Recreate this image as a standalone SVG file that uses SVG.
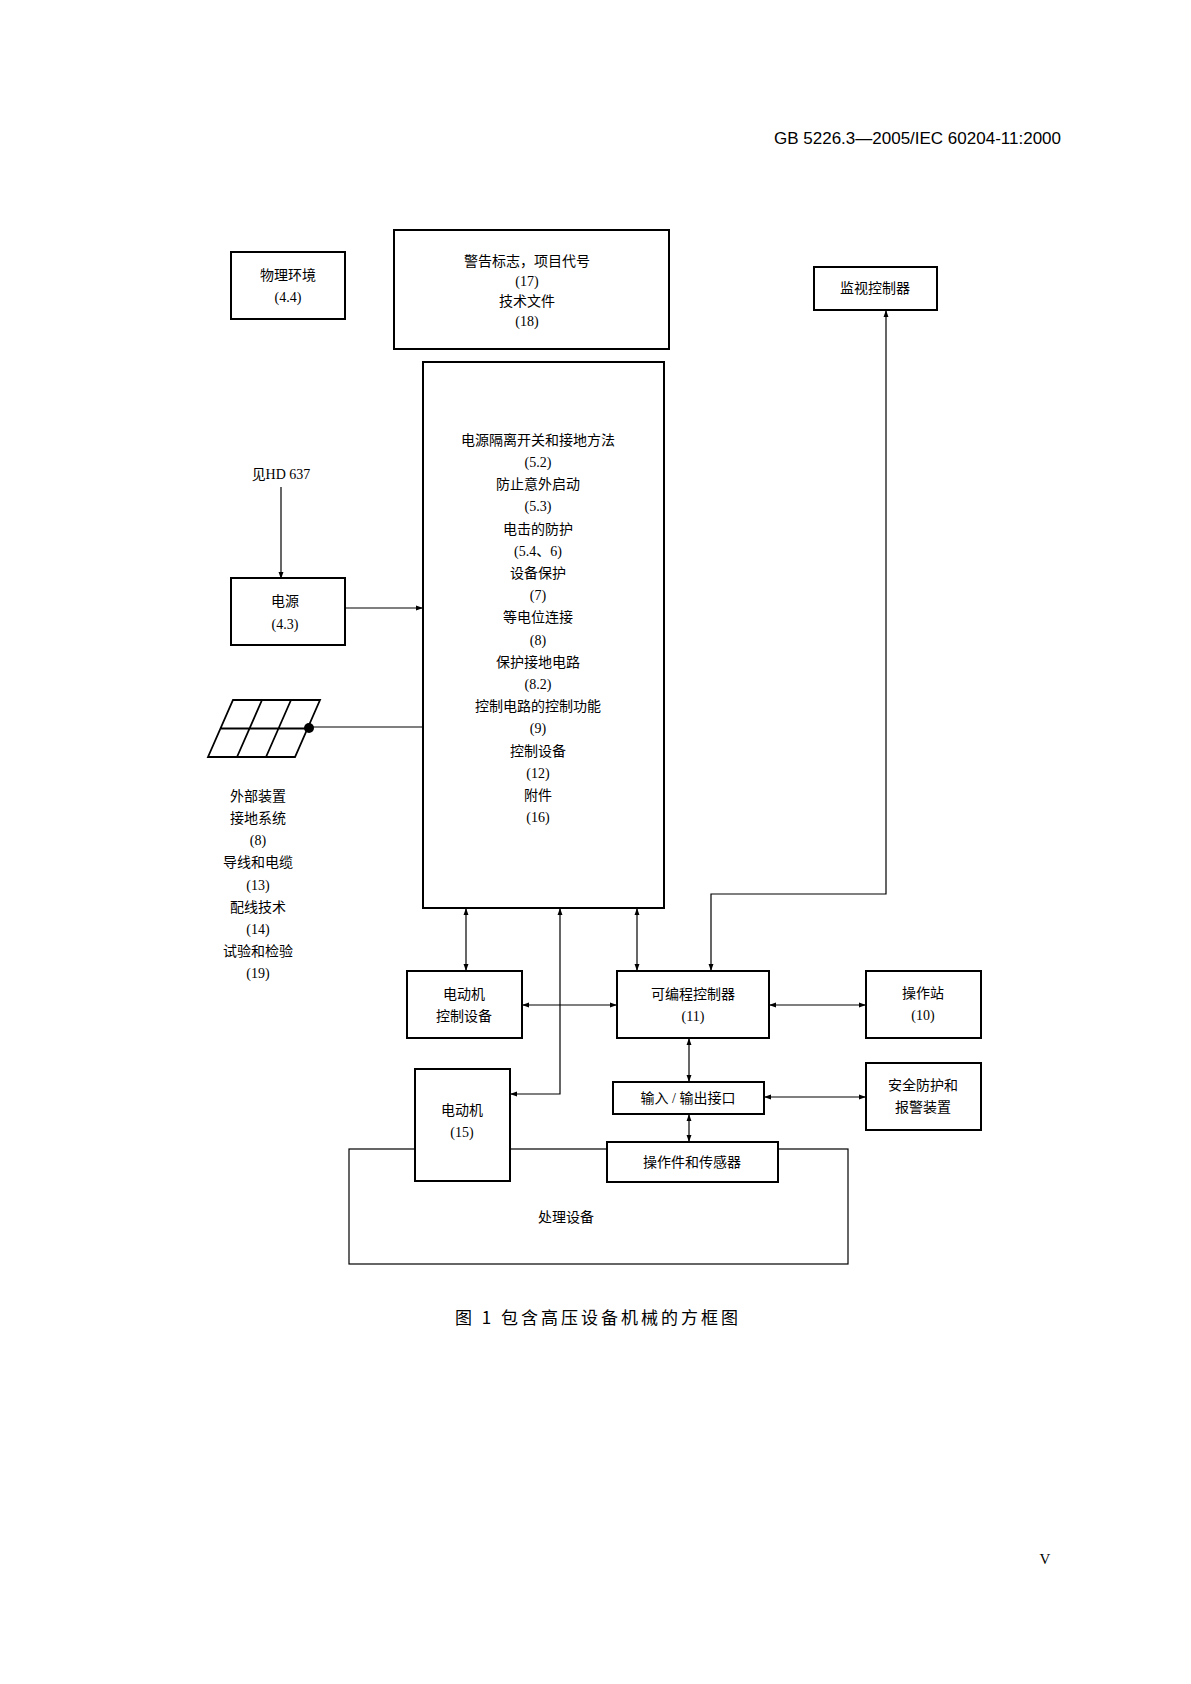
<svg xmlns="http://www.w3.org/2000/svg" width="1191" height="1684" viewBox="0 0 1191 1684">
<style>
.b{fill:#fff;stroke:#000;stroke-width:2}
.l{fill:none;stroke:#000;stroke-width:1.2}
text{font-family:"Liberation Serif","Noto Sans CJK SC",serif;font-size:14px;text-anchor:middle;fill:#000}
</style>
<defs>
<marker id="a" viewBox="0 0 10 10" refX="10" refY="5" markerWidth="9" markerHeight="7" orient="auto-start-reverse" markerUnits="userSpaceOnUse"><path d="M0,1.5L10,5L0,8.5z"/></marker>
</defs>
<rect width="1191" height="1684" fill="#fff"/>
<text x="1061" y="144" style="text-anchor:end;font-size:17px;font-family:'Liberation Sans','Noto Sans CJK SC',sans-serif">GB 5226.3—2005/IEC 60204-11:2000</text>
<g id="conn">
<path class="l" d="M281,487V579" marker-end="url(#a)"/>
<path class="l" d="M345,608H423" marker-end="url(#a)"/>
<path class="l" d="M309,727H423"/>
<path class="l" d="M711,971V894H886V310" marker-start="url(#a)" marker-end="url(#a)"/>
<path class="l" d="M466,908V971" marker-start="url(#a)" marker-end="url(#a)"/>
<path class="l" d="M510,1094H560V908" marker-start="url(#a)" marker-end="url(#a)"/>
<path class="l" d="M637,908V971" marker-start="url(#a)" marker-end="url(#a)"/>
<path class="l" d="M522,1005H617" marker-start="url(#a)" marker-end="url(#a)"/>
<path class="l" d="M769,1005H866" marker-start="url(#a)" marker-end="url(#a)"/>
<path class="l" d="M689,1038V1082" marker-start="url(#a)" marker-end="url(#a)"/>
<path class="l" d="M764,1097H866" marker-start="url(#a)" marker-end="url(#a)"/>
<path class="l" d="M689,1114V1142" marker-start="url(#a)" marker-end="url(#a)"/>
</g>
<g id="process"><rect x="349" y="1149" width="499" height="115" fill="none" stroke="#000" stroke-width="1.2"/><text x="566" y="1222">处理设备</text></g>
<g id="env"><rect class="b" x="231" y="252" width="114" height="67"/><text x="288" y="280">物理环境</text><text x="288" y="302">(4.4)</text></g>
<g id="warn"><rect class="b" x="394" y="230" width="275" height="119"/><text x="527" y="266">警告标志，项目代号</text><text x="527" y="286">(17)</text><text x="527" y="306">技术文件</text><text x="527" y="326">(18)</text></g>
<g id="monitor"><rect class="b" x="814" y="267" width="123" height="43"/><text x="875" y="293">监视控制器</text></g>
<g id="main"><rect class="b" x="423" y="362" width="241" height="546"/>
<text x="538" y="445">电源隔离开关和接地方法</text><text x="538" y="467">(5.2)</text><text x="538" y="489">防止意外启动</text><text x="538" y="511">(5.3)</text><text x="538" y="534">电击的防护</text><text x="538" y="556">(5.4、6)</text><text x="538" y="578">设备保护</text><text x="538" y="600">(7)</text><text x="538" y="622">等电位连接</text><text x="538" y="645">(8)</text><text x="538" y="667">保护接地电路</text><text x="538" y="689">(8.2)</text><text x="538" y="711">控制电路的控制功能</text><text x="538" y="733">(9)</text><text x="538" y="756">控制设备</text><text x="538" y="778">(12)</text><text x="538" y="800">附件</text><text x="538" y="822">(16)</text></g>
<g id="hd"><text x="281" y="479">见HD 637</text></g>
<g id="power"><rect class="b" x="231" y="578" width="114" height="67"/><text x="285" y="606">电源</text><text x="285" y="629">(4.3)</text></g>
<g id="ground"><path class="l" style="stroke-width:1.8" d="M233,700H320L295,757H208Z M220.5,728.5H307.5 M262,700L237,757 M291,700L266,757"/><circle cx="309" cy="728" r="5"/>
<text x="258" y="801">外部装置</text><text x="258" y="823">接地系统</text><text x="258" y="845">(8)</text><text x="258" y="867">导线和电缆</text><text x="258" y="890">(13)</text><text x="258" y="912">配线技术</text><text x="258" y="934">(14)</text><text x="258" y="956">试验和检验</text><text x="258" y="978">(19)</text></g>
<g id="mcd"><rect class="b" x="407" y="971" width="115" height="67"/><text x="464" y="999">电动机</text><text x="464" y="1021">控制设备</text></g>
<g id="plc"><rect class="b" x="617" y="971" width="152" height="67"/><text x="693" y="999">可编程控制器</text><text x="693" y="1021">(11)</text></g>
<g id="ops"><rect class="b" x="866" y="971" width="115" height="67"/><text x="923" y="998">操作站</text><text x="923" y="1020">(10)</text></g>
<g id="io"><rect class="b" x="613" y="1082" width="151" height="32"/><text x="688" y="1103">输入 / 输出接口</text></g>
<g id="safe"><rect class="b" x="866" y="1063" width="115" height="67"/><text x="923" y="1090">安全防护和</text><text x="923" y="1112">报警装置</text></g>
<g id="motor"><rect class="b" x="415" y="1069" width="95" height="112"/><text x="462" y="1115">电动机</text><text x="462" y="1137">(15)</text></g>
<g id="sensor"><rect class="b" x="607" y="1142" width="171" height="40"/><text x="692" y="1167">操作件和传感器</text></g>
<text x="598" y="1324" style="font-size:17px;letter-spacing:3px;font-family:'Noto Sans CJK SC',sans-serif">图 1   包含高压设备机械的方框图</text>
<text x="1045" y="1564" style="font-size:15px">V</text>
</svg>
